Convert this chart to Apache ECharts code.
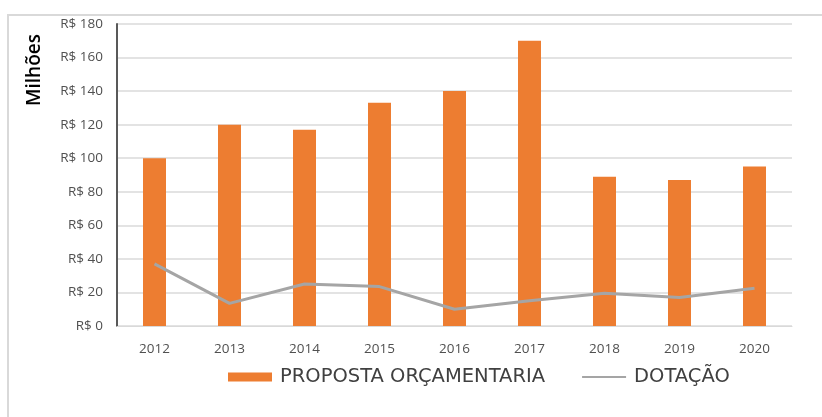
<!DOCTYPE html>
<html>
<head>
<meta charset="utf-8">
<script src="https://cdn.jsdelivr.net/npm/echarts@6/dist/echarts.min.js"></script>
<style>
html,body{margin:0;padding:0;background:#fff;}
#c{width:822px;height:417px;}
</style>
</head>
<body>
<div id="c"></div>
<script>
const categories = ['2012','2013','2014','2015','2016','2017','2018','2019','2020'];
const proposta = [100, 120, 117, 133, 140, 170, 89, 87, 95];
const dotacao = [37, 13.5, 25, 23.5, 10, 15, 19.5, 17, 22.5];
const yTicks = [0, 20, 40, 60, 80, 100, 120, 140, 160, 180];

const FONT = '"Open Sans", "Liberation Sans", sans-serif';
const LFONT = '"DejaVu Sans", "Open Sans", sans-serif';
const chart = echarts.init(document.getElementById('c'), null, {renderer: 'canvas'});
chart.setOption({
  animation: false,
  backgroundColor: '#fff',
  grid: {left: 117, right: 30, top: 24, bottom: 91},
  xAxis: {
    type: 'category',
    data: categories,
    axisLine: {lineStyle: {color: '#d9d9d9', width: 1}},
    axisTick: {show: false},
    axisLabel: {color: '#505050', fontSize: 13.5, fontFamily: FONT, margin: 16}
  },
  yAxis: {
    type: 'value',
    min: yTicks[0],
    max: yTicks[yTicks.length - 1],
    interval: 20,
    axisLine: {show: true, lineStyle: {color: '#595959', width: 2}},
    axisTick: {show: false},
    splitLine: {lineStyle: {color: '#e3e3e3', width: 2}},
    axisLabel: {color: '#505050', fontSize: 13.5, fontFamily: FONT, margin: 14,
      formatter: v => 'R$ ' + v}
  },
  legend: {
    top: 362,
    left: 223,
    itemGap: 36,
    itemWidth: 44,
    itemHeight: 9,
    textStyle: {color: '#404040', fontSize: 19.5, fontFamily: LFONT, padding: [0,0,0,3]},
    data: [
      {name: 'PROPOSTA ORÇAMENTARIA', icon: 'rect'},
      {name: 'DOTAÇÃO', itemStyle: {opacity: 0}}
    ]
  },
  series: [
    {
      name: 'PROPOSTA ORÇAMENTARIA',
      type: 'bar',
      data: proposta,
      barWidth: 23,
      itemStyle: {color: '#ED7D31'}
    },
    {
      name: 'DOTAÇÃO',
      type: 'line',
      data: dotacao,
      symbol: 'none',
      lineStyle: {color: '#A5A5A5', width: 3},
      itemStyle: {color: '#A5A5A5'}
    }
  ],
  graphic: [
    {type: 'rect', shape: {x: 8, y: 15, width: 830, height: 420}, style: {fill: 'none', stroke: '#d9d9d9', lineWidth: 2}, silent: true},
    {type: 'text', x: 35, y: 70, rotation: Math.PI / 2, style: {text: 'Milhões', fill: '#000', font: '600 19px ' + FONT, align: 'center', verticalAlign: 'middle'}}
  ]
});
</script>
</body>
</html>
